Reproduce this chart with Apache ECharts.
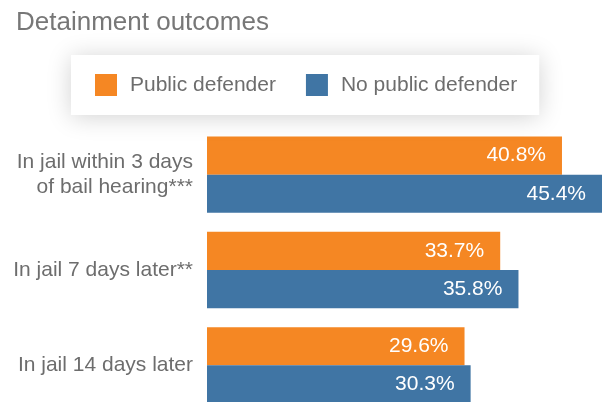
<!DOCTYPE html>
<html><head><meta charset="utf-8">
<script src="https://cdn.jsdelivr.net/npm/echarts@6/dist/echarts.min.js"></script>
<style>html,body{margin:0;padding:0;background:#fff;overflow:hidden}#c{width:602px;height:413px}</style>
</head><body><div id="c"></div>
<script>
const categories = ['In jail within 3 days\nof bail hearing***', 'In jail 7 days later**', 'In jail 14 days later'];
const seriesNames = ['Public defender', 'No public defender'];
const publicDefender = [40.8, 33.7, 29.6];
const noPublicDefender = [45.4, 35.8, 30.3];
const colors = ['#F58723', '#4075A4'];
const FONT = 'Liberation Sans, Arial, sans-serif';

const chart = echarts.init(document.getElementById('c'));
const labelCfg = {
  show: true, position: 'insideRight', distance: 16, color: '#fff',
  fontSize: 21, fontFamily: FONT, formatter: p => p.value.toFixed(1) + '%'
};
chart.setOption({
  animation: false,
  title: { text: 'Detainment outcomes', left: 11, top: 5,
    textStyle: { color: '#777', fontSize: 26, fontWeight: 'normal', fontFamily: FONT } },
  legend: {
    data: seriesNames, left: 71, top: 55, icon: 'rect', itemWidth: 22, itemHeight: 22,
    itemGap: 30, padding: [19, 22, 19, 24], backgroundColor: '#fff',
    shadowBlur: 24, shadowColor: 'rgba(0,0,0,0.18)', shadowOffsetY: 2,
    textStyle: { color: '#6d6d6d', fontSize: 21, fontFamily: FONT, padding: [0, 0, 0, 8] }
  },
  grid: { left: 207, right: 0, top: 127, bottom: 0, containLabel: false },
  xAxis: { type: 'value', min: 0, max: 45.4, show: false },
  yAxis: {
    type: 'category', data: categories, inverse: true,
    axisLine: { show: false }, axisTick: { show: false },
    axisLabel: { color: '#6d6d6d', fontSize: 21, fontFamily: FONT, margin: 14, lineHeight: 25, align: 'right' }
  },
  series: [
    { name: seriesNames[0], type: 'bar', data: publicDefender, itemStyle: { color: colors[0] },
      barGap: 0, barCategoryGap: '20%', label: labelCfg },
    { name: seriesNames[1], type: 'bar', data: noPublicDefender, itemStyle: { color: colors[1] },
      barGap: 0, barCategoryGap: '20%', label: labelCfg }
  ]
});
</script></body></html>
